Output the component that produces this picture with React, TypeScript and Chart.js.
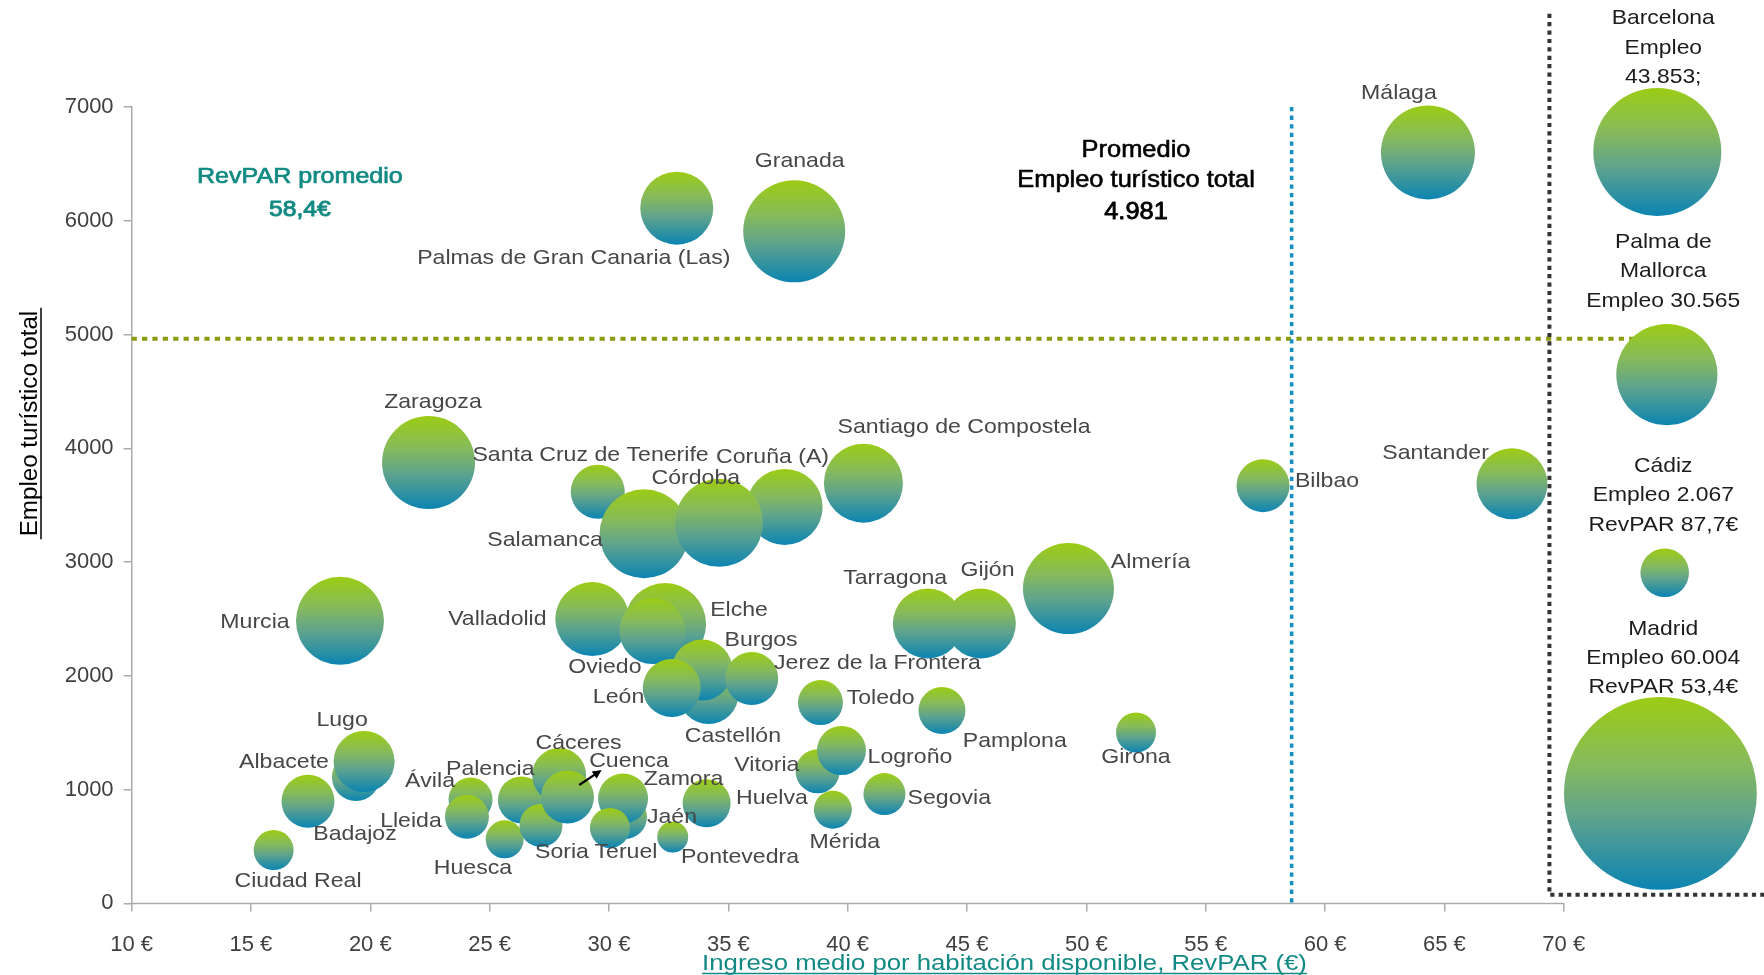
import React, { useEffect, useRef } from 'react';
import { Chart, registerables } from 'chart.js';

Chart.register(...registerables);

// ---------------- DATA ----------------
const cities = [
  'Granada', 'Palmas de Gran Canaria (Las)', 'Málaga', 'Zaragoza', 'Santa Cruz de Tenerife',
  'Salamanca', 'Coruña (A)', 'Córdoba', 'Santiago de Compostela', 'Bilbao',
  'Santander', 'Murcia', 'Elche', 'Valladolid', 'Oviedo',
  'Castellón', 'Burgos', 'León', 'Jerez de la Frontera', 'Toledo',
  'Pamplona', 'Gijón', 'Tarragona', 'Almería', 'Girona',
  'Vitoria', 'Logroño', 'Mérida', 'Segovia', 'Huelva',
  'Pontevedra', 'Jaén', 'Zamora', 'Teruel', 'Palencia',
  'Huesca', 'Soria', 'Cáceres', 'Cuenca', 'Ávila',
  'Lleida', 'Badajoz', 'Lugo', 'Albacete', 'Ciudad Real',
];

// RevPAR (€) – x axis
const revpar = [
  37.76, 32.84, 64.31, 22.44, 29.53,
  31.47, 37.36, 34.61, 40.66, 57.40,
  67.83, 18.73, 32.35, 29.30, 31.82,
  34.17, 33.90, 32.63, 35.98, 38.86,
  43.95, 45.58, 43.36, 49.25, 52.08,
  38.74, 39.74, 39.38, 41.54, 34.09,
  32.67, 30.67, 30.59, 30.04, 26.33,
  25.63, 27.15, 27.91, 28.26, 24.20,
  24.05, 19.40, 19.74, 17.39, 15.95,
];

// Empleo turístico total – y axis
const empleo = [
  5907, 6111, 6601, 3875, 3618,
  3249, 3485, 3345, 3694, 3672,
  3688, 2484, 2455, 2499, 2394,
  1840, 2051, 1893, 1976, 1765,
  1695, 2460, 2460, 2767, 1502,
  1161, 1344, 823, 961, 880,
  583, 759, 922, 663, 909,
  563, 685, 1128, 935, 913,
  762, 1111, 1247, 897, 469,
];

// bubble radius (px)
const bubbleSize = [
  51, 36.5, 47, 46.5, 27,
  44.5, 38, 44, 39.5, 26.5,
  35.5, 44, 41, 37, 33,
  30, 30.5, 29, 26.5, 22.5,
  23.5, 35, 35, 45.5, 20,
  22, 24.5, 19, 21, 24,
  15.5, 22, 25, 20, 23.5,
  19, 21.5, 27, 26.5, 22,
  22, 24, 30.5, 26.5, 20,
];

// label offsets from bubble centre (px)
const labelDX = [
  5.5, -103, -29, 4.4, -7.2,
  -99, -12.1, -23.2, 100.6, 64,
  -76.4, -85, 74, -94.9, -47.5,
  24.4, 59, -53.2, 125.7, 60.2,
  72.8, 6.7, -32.7, 82.2, 0,
  -50.7, 68.5, 12, 64.9, 65.3,
  67.3, 47, 60.4, 16, -31.1,
  -31.7, 21, 19.5, 61.5, -40.6,
  -56, -1, -22, -24, 24.4,
];
const labelDY = [
  -72.2, 48.7, -60.5, -62.4, -38.7,
  4.3, -51.8, -46.8, -57.75, -6,
  -32, -0.7, -16, -2, 34,
  40.7, -31.3, 7, -16.8, -6.5,
  28.5, -55.5, -47.5, -28.5, 22.5,
  -8.3, 4.5, 30.8, 2, -6.3,
  18, -2, -21.5, 23, -32.5,
  26.7, 25, -34, -38, -20.5,
  2.3, 55, -43.5, -41.3, 29,
];

// highlighted cities (right panel)
const highlightCities = ['Barcelona', 'Palma de Mallorca', 'Cádiz', 'Madrid'];
const highlightX = [73.92, 74.32, 74.23, 74.05];
const highlightY = [6605, 4648, 2906, 967];
const highlightSize = [64, 50.6, 24.3, 96.4];
const highlightText = [
  ['Barcelona', 'Empleo', '43.853;'],
  ['Palma de', 'Mallorca', 'Empleo 30.565'],
  ['Cádiz', 'Empleo 2.067', 'RevPAR 87,7€'],
  ['Madrid', 'Empleo 60.004', 'RevPAR 53,4€'],
];
const highlightTextDY = [-135, -134, -108, -166];
const panelLabelX = 74.17;

// reference lines
const revparPromedio = 58.6;
const empleoPromedio = 4964;
const panelBoxX = 69.4;
const panelBoxTop = 7820;
const panelBoxBottom = 75;

// axes
const xMin = 10;
const xAxisEnd = 70;
const xMax = 78;
const xStep = 5;
const yMin = 0;
const yMax = 7000;
const yStep = 1000;

// arrow near Cuenca (offsets from Cuenca bubble, px)
const arrowCity = 'Cuenca';
const arrowFrom = [11.8, -12];
const arrowTo = [34.2, -27];

// ---------------- STYLE ----------------
const FONT = '"Liberation Sans", Arial, Helvetica, sans-serif';
const TEAL = '#128A83';
const LABEL_COLOR = '#474747';
const AXIS_COLOR = '#ABABAB';

function bubbleFill(ctx: any) {
  const chart = ctx.chart;
  const raw = ctx.raw;
  if (!raw || !chart.chartArea || !chart.scales || !chart.scales.y) return '#6aa985';
  const cy = chart.scales.y.getPixelForValue(raw.y);
  const g = chart.ctx.createLinearGradient(0, cy - raw.r, 0, cy + raw.r);
  g.addColorStop(0, '#9CCC14');
  g.addColorStop(0.35, '#86BA5C');
  g.addColorStop(0.62, '#5FA38D');
  g.addColorStop(1, '#0B84B2');
  return g;
}

function drawText(
  ctx: CanvasRenderingContext2D,
  text: string,
  x: number,
  yMid: number,
  size: number,
  color: string,
  sx = 1,
  strokeW = 0,
) {
  ctx.save();
  ctx.font = `normal ${size}px ${FONT}`;
  ctx.fillStyle = color;
  ctx.textAlign = 'center';
  ctx.textBaseline = 'alphabetic';
  ctx.translate(x, yMid + size * 0.358);
  ctx.scale(sx, 1);
  ctx.fillText(text, 0, 0);
  if (strokeW > 0) {
    ctx.strokeStyle = color;
    ctx.lineWidth = strokeW;
    ctx.lineJoin = 'round';
    ctx.strokeText(text, 0, 0);
  }
  ctx.restore();
}

const overlayPlugin = {
  id: 'overlay',
  beforeDatasetsDraw(chart: any) {
    const { ctx } = chart;
    const xs = chart.scales.x;
    const ys = chart.scales.y;
    ctx.save();
    // x axis line (only up to 70 €)
    ctx.strokeStyle = AXIS_COLOR;
    ctx.lineWidth = 1.5;
    ctx.beginPath();
    ctx.moveTo(xs.getPixelForValue(xMin), ys.getPixelForValue(yMin));
    ctx.lineTo(xs.getPixelForValue(xAxisEnd), ys.getPixelForValue(yMin));
    ctx.stroke();

    ctx.lineCap = 'butt';
    // average employment line (olive)
    const gy = ys.getPixelForValue(empleoPromedio);
    ctx.strokeStyle = '#8C9B10';
    ctx.lineWidth = 4;
    ctx.setLineDash([5.2, 5.2]);
    ctx.beginPath();
    ctx.moveTo(xs.getPixelForValue(xMin), gy);
    ctx.lineTo(xs.getPixelForValue(highlightX[1]), gy);
    ctx.stroke();
    // average RevPAR line (blue)
    const bx = xs.getPixelForValue(revparPromedio);
    ctx.strokeStyle = '#1690C2';
    ctx.lineWidth = 3.6;
    ctx.setLineDash([4.3, 4.3]);
    ctx.beginPath();
    ctx.moveTo(bx, ys.getPixelForValue(yMax));
    ctx.lineTo(bx, ys.getPixelForValue(yMin));
    ctx.stroke();
    // right panel box (dark)
    const px = xs.getPixelForValue(panelBoxX);
    const pTop = ys.getPixelForValue(panelBoxTop);
    const pBot = ys.getPixelForValue(panelBoxBottom);
    ctx.strokeStyle = '#333333';
    ctx.lineWidth = 4;
    ctx.setLineDash([4.2, 4.2]);
    ctx.beginPath();
    ctx.moveTo(px, pTop);
    ctx.lineTo(px, pBot);
    ctx.lineTo(chart.width, pBot);
    ctx.stroke();
    ctx.restore();
  },
  afterDatasetsDraw(chart: any) {
    const { ctx } = chart;
    const xs = chart.scales.x;
    const ys = chart.scales.y;
    const meta = chart.getDatasetMeta(0);
    // city labels
    cities.forEach((name, i) => {
      const el = meta.data[i];
      if (!el) return;
      drawText(ctx, name, el.x + labelDX[i], el.y + labelDY[i], 21, LABEL_COLOR, 1.1);
    });
    // arrow near Cuenca
    const ci = cities.indexOf(arrowCity);
    const cel = meta.data[ci];
    if (cel) {
      const x1 = cel.x + arrowFrom[0];
      const y1 = cel.y + arrowFrom[1];
      const x2 = cel.x + arrowTo[0];
      const y2 = cel.y + arrowTo[1];
      const ang = Math.atan2(y2 - y1, x2 - x1);
      const hl = 10;
      ctx.save();
      ctx.strokeStyle = '#000';
      ctx.fillStyle = '#000';
      ctx.lineWidth = 2.2;
      ctx.beginPath();
      ctx.moveTo(x1, y1);
      ctx.lineTo(x2 - Math.cos(ang) * hl * 0.7, y2 - Math.sin(ang) * hl * 0.7);
      ctx.stroke();
      ctx.beginPath();
      ctx.moveTo(x2, y2);
      ctx.lineTo(x2 - hl * Math.cos(ang - 0.45), y2 - hl * Math.sin(ang - 0.45));
      ctx.lineTo(x2 - hl * Math.cos(ang + 0.45), y2 - hl * Math.sin(ang + 0.45));
      ctx.closePath();
      ctx.fill();
      ctx.restore();
    }
    // right panel labels
    const meta2 = chart.getDatasetMeta(1);
    const tx = xs.getPixelForValue(panelLabelX);
    highlightText.forEach((lines, i) => {
      const el = meta2.data[i];
      if (!el) return;
      lines.forEach((t, k) => {
        drawText(ctx, t, tx, el.y + highlightTextDY[i] + k * 29.2, 21, '#1c1c1c', 1.09);
      });
    });
    // annotations
    const rx = xs.getPixelForValue(17.05);
    drawText(ctx, 'RevPAR promedio', rx, ys.getPixelForValue(6398), 22, TEAL, 1.14, 0.7);
    drawText(ctx, '58,4€', rx, ys.getPixelForValue(6111), 22, TEAL, 1.12, 0.9);
    const mx = xs.getPixelForValue(52.08);
    drawText(ctx, 'Promedio', mx, ys.getPixelForValue(6632), 24, '#000', 1.06, 0.6);
    drawText(ctx, 'Empleo turístico total', mx, ys.getPixelForValue(6372), 24, '#000', 1.06, 0.6);
    drawText(ctx, '4.981', mx, ys.getPixelForValue(6089), 24, '#000', 1.06, 0.8);

    // x axis title (underlined)
    ctx.save();
    const xt = 'Ingreso medio por habitación disponible, RevPAR (€)';
    ctx.font = `normal 22px ${FONT}`;
    const xw = ctx.measureText(xt).width * 1.17;
    const xcx = xs.getPixelForValue(46.57);
    drawText(ctx, xt, xcx, 962, 22, TEAL, 1.17);
    ctx.strokeStyle = TEAL;
    ctx.lineWidth = 1.6;
    ctx.beginPath();
    ctx.moveTo(xcx - xw / 2, 973.5);
    ctx.lineTo(xcx + xw / 2, 973.5);
    ctx.stroke();
    ctx.restore();

    // y axis title (rotated, underlined)
    ctx.save();
    const yt = 'Empleo turístico total';
    ctx.font = `normal 23px ${FONT}`;
    const yw = ctx.measureText(yt).width * 1.05;
    const ycy = ys.getPixelForValue(4218);
    ctx.translate(36.7, ycy);
    ctx.rotate(-Math.PI / 2);
    ctx.save();
    ctx.scale(1.05, 1);
    ctx.fillStyle = '#000';
    ctx.textAlign = 'center';
    ctx.textBaseline = 'alphabetic';
    ctx.fillText(yt, 0, 0);
    ctx.restore();
    ctx.strokeStyle = '#000';
    ctx.lineWidth = 1.5;
    ctx.beginPath();
    ctx.moveTo(-yw / 2 - 3, 4.3);
    ctx.lineTo(yw / 2 + 3, 4.3);
    ctx.stroke();
    ctx.restore();
  },
};

export default function App() {
  const canvasRef = useRef<HTMLCanvasElement | null>(null);

  useEffect(() => {
    const canvas = canvasRef.current;
    if (!canvas) return;
    const mainData = cities.map((c, i) => ({ x: revpar[i], y: empleo[i], r: bubbleSize[i] }));
    const panelData = highlightCities.map((c, i) => ({ x: highlightX[i], y: highlightY[i], r: highlightSize[i] }));

    const chart = new Chart(canvas, {
      type: 'bubble',
      data: {
        datasets: [
          { label: 'Ciudades', data: mainData, backgroundColor: bubbleFill, borderWidth: 0, hoverRadius: 0, clip: false } as any,
          { label: 'Destacadas', data: panelData, backgroundColor: bubbleFill, borderWidth: 0, hoverRadius: 0, clip: false } as any,
        ],
      },
      options: {
        responsive: false,
        maintainAspectRatio: false,
        devicePixelRatio: 1,
        animation: false,
        events: [],
        layout: { autoPadding: false, padding: { left: 0, right: 9.3, top: 107, bottom: 0 } },
        plugins: {
          legend: { display: false },
          tooltip: { enabled: false },
          title: { display: false },
        },
        scales: {
          x: {
            type: 'linear',
            min: xMin,
            max: xMax,
            afterFit: (s: any) => { s.height = 71.6; },
            afterBuildTicks: (s: any) => { s.ticks = s.ticks.filter((t: any) => t.value <= xAxisEnd); },
            ticks: {
              stepSize: xStep,
              autoSkip: false,
              maxRotation: 0,
              padding: 20,
              color: '#404040',
              font: { family: FONT, size: 22 },
              callback: (v: any) => `${v} €`,
            },
            grid: { display: true, drawOnChartArea: false, drawTicks: true, tickLength: 8, color: AXIS_COLOR, lineWidth: 1.5 },
            border: { display: false },
          },
          y: {
            type: 'linear',
            min: yMin,
            max: yMax,
            afterFit: (s: any) => { s.width = 131.6; },
            ticks: {
              stepSize: yStep,
              padding: 10,
              color: '#404040',
              font: { family: FONT, size: 22 },
              callback: (v: any) => String(v),
            },
            grid: { display: true, drawOnChartArea: false, drawTicks: true, tickLength: 8, color: AXIS_COLOR, lineWidth: 1.5 },
            border: { display: true, color: AXIS_COLOR, width: 1.5 },
          },
        },
      },
      plugins: [overlayPlugin],
    });
    return () => chart.destroy();
  }, []);

  return (
    <div style={{ position: 'absolute', left: 0, top: 0, width: 1764, height: 975, background: '#fff' }}>
      <canvas ref={canvasRef} width={1764} height={975} style={{ display: 'block', width: 1764, height: 975 }} />
    </div>
  );
}
